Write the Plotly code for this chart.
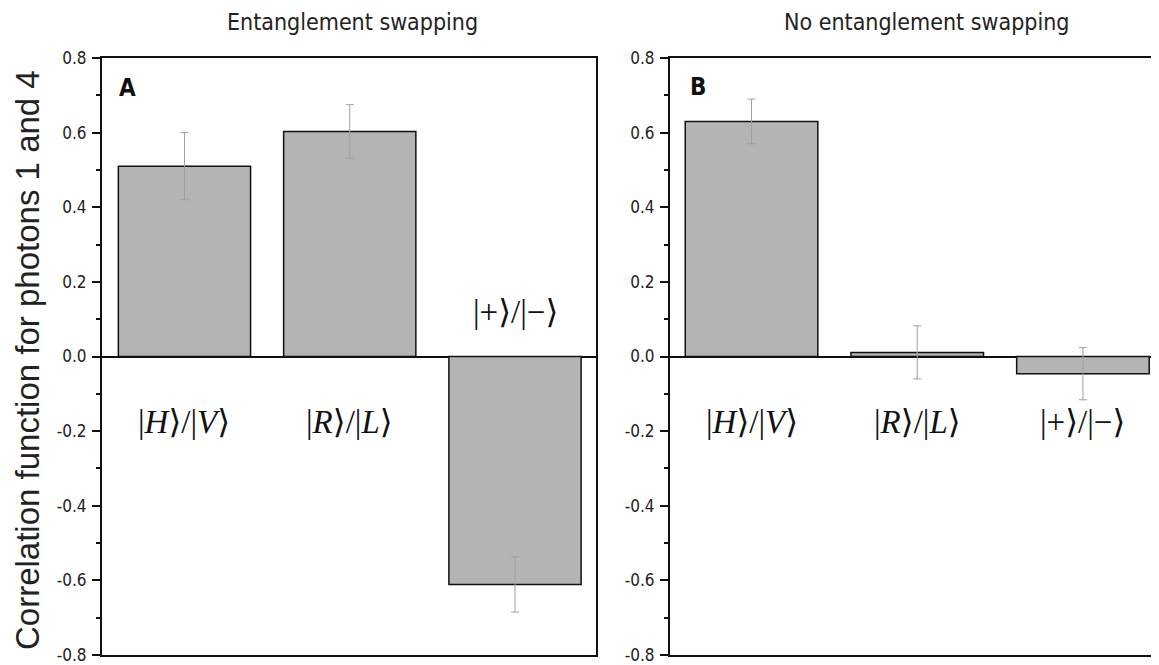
import re
import plotly.graph_objects as go

# ---------------- data ----------------
categories = ["|H⟩/|V⟩", "|R⟩/|L⟩", "|+⟩/|−⟩"]
swap_values = [0.51, 0.603, -0.611]
swap_errors = [0.09, 0.072, 0.074]
noswap_values = [0.63, 0.011, -0.046]
noswap_errors = [0.06, 0.071, 0.07]
panel_titles = ["Entanglement swapping", "No entanglement swapping"]
panel_letters = ["A", "B"]
y_title = "Correlation function for photons 1 and 4"
y_ticks = [-0.8, -0.6, -0.4, -0.2, 0.0, 0.2, 0.4, 0.6, 0.8]
y_tick_labels = ["-0.8", "-0.6", "-0.4", "-0.2", "0.0", "0.2", "0.4", "0.6", "0.8"]

OFF = 8                      # page body margin
W, H = 1159 - OFF, 665 - OFF
NARROW = "Liberation Sans Narrow, DejaVu Sans Condensed, Arial Narrow, sans-serif"
SERIF = "Liberation Serif, Times New Roman, DejaVu Serif, serif"
BAR_FILL = "#b4b4b4"
ERR_COLOR = "#a0a0a0"

xs = list(range(len(categories)))

PLOT_TOP, PLOT_BOT = 58 - OFF, 655 - OFF


def ket(txt):
    return re.sub(r"([A-Za-z])", r"<i>\1</i>", txt)


def px(p):  # screen pixel -> paper x
    return (p - OFF) / W


def py(p):  # screen pixel -> paper y
    return 1 - ((p - OFF) - PLOT_TOP) / (PLOT_BOT - PLOT_TOP)


fig = go.Figure()
for vals, errs, xa, ya in [
    (swap_values, swap_errors, "x", "y"),
    (noswap_values, noswap_errors, "x2", "y2"),
]:
    fig.add_trace(go.Bar(
        x=xs, y=vals, width=0.8, xaxis=xa, yaxis=ya,
        marker=dict(color=BAR_FILL, line=dict(color="#111111", width=1.5)),
        error_y=dict(type="data", array=errs, visible=True,
                     color=ERR_COLOR, thickness=1, width=4),
        showlegend=False, hoverinfo="skip",
    ))

yaxis_common = dict(
    range=[-0.8, 0.8], tickmode="array", tickvals=y_ticks, ticktext=y_tick_labels,
    ticks="outside", ticklen=8, tickwidth=2, tickcolor="#111111",
    minor=dict(dtick=0.1, ticks="outside", ticklen=4, tickwidth=2, tickcolor="#111111"),
    showline=True, linecolor="#111111", linewidth=2,
    showgrid=False, zeroline=True, zerolinecolor="#111111", zerolinewidth=2,
    tickfont=dict(family=NARROW, size=17, color="#222222"),
    ticklabelstandoff=2, ticklabeloverflow="allow", automargin=False,
)
xaxis_common = dict(
    showline=True, linecolor="#111111", linewidth=2, mirror=True,
    showticklabels=False, ticks="", showgrid=False, zeroline=False, automargin=False,
)

fig.update_layout(
    width=W, height=H,
    margin=dict(l=0, r=0, t=PLOT_TOP, b=H - PLOT_BOT, autoexpand=False),
    plot_bgcolor="white", paper_bgcolor="white",
    xaxis=dict(domain=[px(102), px(596)], range=[-0.499, 2.490], anchor="y", **xaxis_common),
    yaxis=dict(domain=[0, 1], anchor="x", mirror=True, **yaxis_common),
    xaxis2=dict(domain=[px(670), 1.0], range=[-0.492, 2.459], anchor="y2", **xaxis_common),
    yaxis2=dict(domain=[0, 1], anchor="x2", mirror=False, **yaxis_common),
)

ann = []
title_font = dict(family=NARROW, size=23, color="#222222")
ann.append(dict(text=panel_titles[0], x=px(352), y=py(22), xref="paper", yref="paper",
                xanchor="center", yanchor="middle", showarrow=False, font=title_font))
ann.append(dict(text=panel_titles[1], x=px(927), y=py(22), xref="paper", yref="paper",
                xanchor="center", yanchor="middle", showarrow=False, font=title_font))
letter_font = dict(family=NARROW, size=24, color="#111111")
ann.append(dict(text="<b>%s</b>" % panel_letters[0], x=px(127), y=py(88), xref="paper", yref="paper",
                xanchor="center", yanchor="middle", showarrow=False, font=letter_font))
ann.append(dict(text="<b>%s</b>" % panel_letters[1], x=px(698), y=py(87), xref="paper", yref="paper",
                xanchor="center", yanchor="middle", showarrow=False, font=letter_font))
ann.append(dict(text=y_title, x=px(27), y=py(360), xref="paper", yref="paper", textangle=-90,
                xanchor="center", yanchor="middle", showarrow=False,
                font=dict(family="Liberation Sans, Arial, sans-serif", size=33, color="#222222")))
label_y_swap = [-0.175, -0.175, 0.12]
label_y_noswap = [-0.175, -0.175, -0.175]
ket_font = dict(family=SERIF, size=33, color="#111111")
for i, c in enumerate(categories):
    ann.append(dict(text=ket(c), x=xs[i], y=label_y_swap[i], xref="x", yref="y",
                    xanchor="center", yanchor="middle", showarrow=False, font=ket_font))
    ann.append(dict(text=ket(c), x=xs[i], y=label_y_noswap[i], xref="x2", yref="y2",
                    xanchor="center", yanchor="middle", showarrow=False, font=ket_font))
fig.update_layout(annotations=ann)

fig.write_html("out.html")
